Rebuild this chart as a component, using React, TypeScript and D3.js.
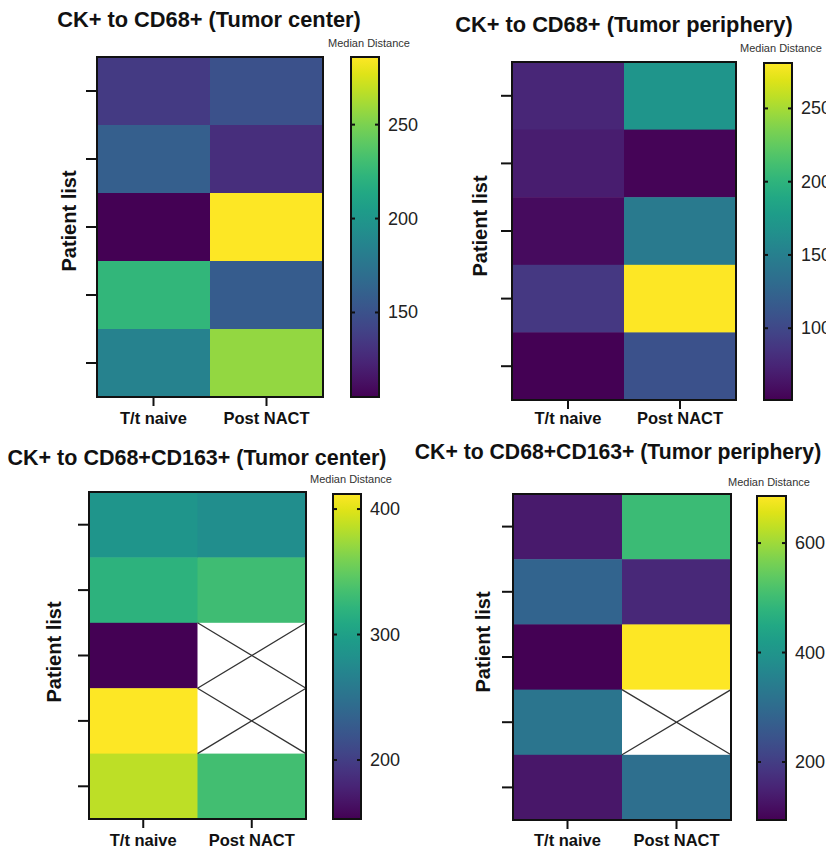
import React, { useRef, useEffect } from 'react';
import * as d3 from 'd3';

// Treatment groups (columns) and patients (rows, unlabelled)
const groups = ['T/t naive', 'Post NACT'];
const patients = ['P1', 'P2', 'P3', 'P4', 'P5'];

// CK+ to CD68+ (Tumor center)
const centerCD68Naive = [136, 159, 105, 224, 185];
const centerCD68Post = [150, 129, 286, 157, 257];
const centerCD68Ticks = [150, 200, 250];

// CK+ to CD68+ (Tumor periphery)
const periphCD68Naive = [76, 69, 58, 88, 51];
const periphCD68Post = [171, 53, 145, 281, 108];
const periphCD68Ticks = [100, 150, 200, 250];

// CK+ to CD68+CD163+ (Tumor center), null = no data
const centerCD163Naive = [288, 319, 153, 412, 386];
const centerCD163Post = [280, 332, null, null, 334];
const centerCD163Ticks = [200, 300, 400];

// CK+ to CD68+CD163+ (Tumor periphery)
const periphCD163Naive = [135, 283, 94, 325, 130];
const periphCD163Post = [497, 159, 686, null, 307];
const periphCD163Ticks = [200, 400, 600];

const panels = [
  {
    title: 'CK+ to CD68+ (Tumor center)',
    cols: [centerCD68Naive, centerCD68Post], ticks: centerCD68Ticks,
    heat: { x: 97, y: 57, w: 226, h: 340 }, bar: { x: 351, y: 57, w: 28, h: 340 },
    titlePos: [209, 27], titleSize: 21.8, medPos: [328, 47], yLab: [69, 221], xLabY: 424
  },
  {
    title: 'CK+ to CD68+ (Tumor periphery)',
    cols: [periphCD68Naive, periphCD68Post], ticks: periphCD68Ticks,
    heat: { x: 512, y: 62, w: 224, h: 338 }, bar: { x: 764, y: 63, w: 28, h: 337 },
    titlePos: [624, 32], titleSize: 21.8, medPos: [740, 52], yLab: [480, 226], xLabY: 424
  },
  {
    title: 'CK+ to CD68+CD163+ (Tumor center)',
    cols: [centerCD163Naive, centerCD163Post], ticks: centerCD163Ticks,
    heat: { x: 89, y: 492, w: 217, h: 327 }, bar: { x: 333, y: 494, w: 28, h: 325 },
    titlePos: [197, 465], titleSize: 21.5, medPos: [310, 483], yLab: [54, 652], xLabY: 846
  },
  {
    title: 'CK+ to CD68+CD163+ (Tumor periphery)',
    cols: [periphCD163Naive, periphCD163Post], ticks: periphCD163Ticks,
    heat: { x: 513, y: 494, w: 218, h: 326 }, bar: { x: 757, y: 496, w: 29, h: 324 },
    titlePos: [618, 459], titleSize: 21.2, medPos: [728, 486], yLab: [483, 642], xLabY: 846
  }
];

const FONT = '"Liberation Sans", Arial, Helvetica, sans-serif';

const App = () => {
  const svgRef = useRef<SVGSVGElement>(null);

  useEffect(() => {
    document.body.style.margin = '0';
    if (!svgRef.current) return;
    const svg = d3.select(svgRef.current);
    svg.selectAll('*').remove();
    const defs = svg.append('defs');

    panels.forEach((p, pi) => {
      const g = svg.append('g').attr('font-family', FONT);
      const all = p.cols.flat().filter(v => v != null) as number[];
      const ext = d3.extent(all) as [number, number];
      const color = d3.scaleSequential(d3.interpolateViridis).domain(ext);

      const x = d3.scaleBand().domain(groups).range([p.heat.x, p.heat.x + p.heat.w]);
      const y = d3.scaleBand().domain(patients).range([p.heat.y, p.heat.y + p.heat.h]);

      const cells = groups.flatMap((grp, ci) =>
        patients.map((pt, ri) => ({ grp, pt, v: p.cols[ci][ri] }))
      );

      // heatmap cells
      g.selectAll('rect.cell')
        .data(cells)
        .enter()
        .append('rect')
        .attr('class', 'cell')
        .attr('x', d => x(d.grp)!)
        .attr('y', d => y(d.pt)!)
        .attr('width', x.bandwidth() + 0.5)
        .attr('height', y.bandwidth() + 0.5)
        .attr('fill', d => (d.v == null ? '#ffffff' : color(d.v)));

      // missing cells get a cross
      const missing = cells.filter(d => d.v == null);
      missing.forEach(d => {
        const x0 = x(d.grp)!, y0 = y(d.pt)!;
        const x1 = x0 + x.bandwidth(), y1 = y0 + y.bandwidth();
        g.append('path')
          .attr('d', `M${x0},${y0}L${x1},${y1}M${x0},${y1}L${x1},${y0}`)
          .attr('stroke', '#333')
          .attr('stroke-width', 1.3)
          .attr('fill', 'none');
      });

      // heatmap frame
      g.append('rect')
        .attr('x', p.heat.x).attr('y', p.heat.y)
        .attr('width', p.heat.w).attr('height', p.heat.h)
        .attr('fill', 'none').attr('stroke', '#111').attr('stroke-width', 2);

      // y axis ticks
      const yAxis = g.append('g')
        .attr('transform', `translate(${p.heat.x - 1},0)`)
        .call(d3.axisLeft(y).tickSize(10).tickFormat(() => ''));
      yAxis.select('.domain').remove();
      yAxis.selectAll('line').attr('stroke', '#111').attr('stroke-width', 2);

      // x axis ticks + labels
      const xAxis = g.append('g')
        .attr('transform', `translate(0,${p.heat.y + p.heat.h + 1})`)
        .call(d3.axisBottom(x).tickSize(8).tickPadding(0));
      xAxis.select('.domain').remove();
      xAxis.selectAll('line').attr('stroke', '#111').attr('stroke-width', 2);
      xAxis.selectAll('text')
        .attr('y', p.xLabY - (p.heat.y + p.heat.h + 1))
        .attr('dy', 0)
        .attr('fill', '#111')
        .attr('font-size', 16.5)
        .attr('font-weight', 'bold')
        .attr('font-family', FONT);

      // title
      g.append('text')
        .attr('x', p.titlePos[0]).attr('y', p.titlePos[1])
        .attr('text-anchor', 'middle')
        .attr('font-size', p.titleSize).attr('font-weight', 'bold').attr('fill', '#111')
        .text(p.title);

      // y label
      g.append('text')
        .attr('transform', `translate(${p.yLab[0]},${p.yLab[1]}) rotate(-90)`)
        .attr('text-anchor', 'middle')
        .attr('dominant-baseline', 'central')
        .attr('font-size', 20).attr('font-weight', 'bold').attr('fill', '#111')
        .text('Patient list');

      // colour bar
      const gid = `grad${pi}`;
      const grad = defs.append('linearGradient')
        .attr('id', gid).attr('x1', 0).attr('y1', 1).attr('x2', 0).attr('y2', 0);
      d3.range(0, 1.0001, 0.05).forEach(t => {
        grad.append('stop')
          .attr('offset', t)
          .attr('stop-color', color(ext[0] + t * (ext[1] - ext[0])));
      });
      g.append('rect')
        .attr('x', p.bar.x).attr('y', p.bar.y)
        .attr('width', p.bar.w).attr('height', p.bar.h)
        .attr('fill', `url(#${gid})`)
        .attr('stroke', '#111').attr('stroke-width', 2);

      const cy = d3.scaleLinear().domain(ext).range([p.bar.y + p.bar.h, p.bar.y]);
      p.ticks.forEach(t => {
        g.append('line')
          .attr('x1', p.bar.x).attr('x2', p.bar.x + 4)
          .attr('y1', cy(t)).attr('y2', cy(t))
          .attr('stroke', '#111').attr('stroke-width', 2);
        g.append('line')
          .attr('x1', p.bar.x + p.bar.w - 4).attr('x2', p.bar.x + p.bar.w)
          .attr('y1', cy(t)).attr('y2', cy(t))
          .attr('stroke', '#111').attr('stroke-width', 2);
        g.append('text')
          .attr('x', p.bar.x + p.bar.w + 9).attr('y', cy(t))
          .attr('dominant-baseline', 'central')
          .attr('font-size', 18).attr('fill', '#222')
          .text(t);
      });

      g.append('text')
        .attr('x', p.medPos[0]).attr('y', p.medPos[1])
        .attr('font-size', 11).attr('fill', '#333')
        .text('Median Distance');
    });
  }, []);

  return (
    <svg
      ref={svgRef}
      width={826}
      height={849}
      style={{ display: 'block', background: '#fff' }}
    />
  );
};

export default App;
